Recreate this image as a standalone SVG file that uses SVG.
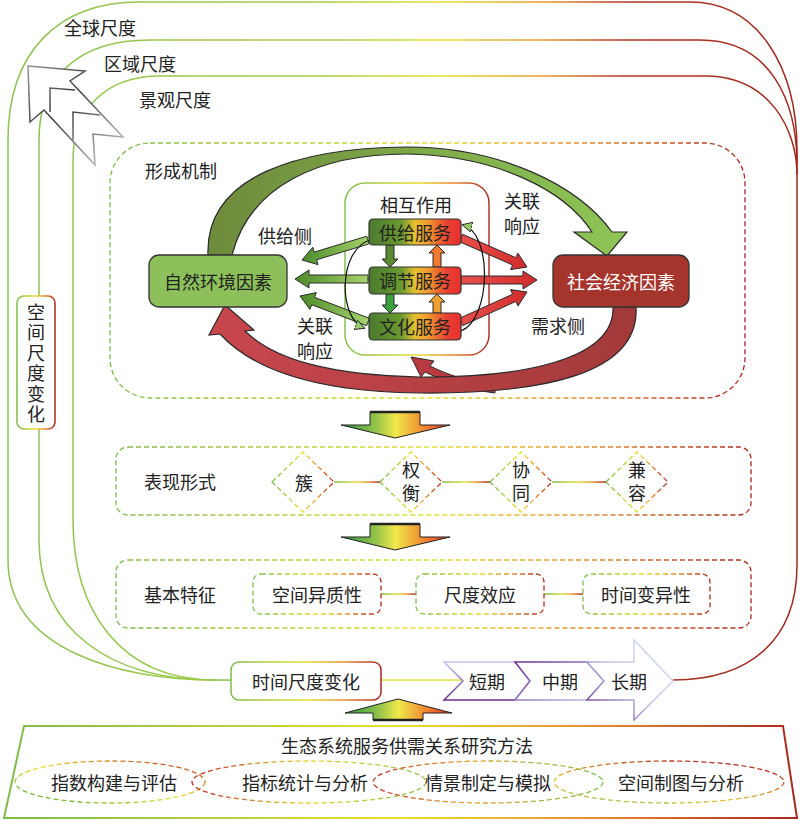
<svg xmlns="http://www.w3.org/2000/svg" width="800" height="820" viewBox="0 0 800 820">
<style>
.t{font-family:"Noto Sans CJK SC","Noto Sans",sans-serif;font-size:18px;fill:#222;text-anchor:middle;dominant-baseline:central}
.v{writing-mode:vertical-rl;text-anchor:start;letter-spacing:2.5px}
.v2{writing-mode:vertical-rl;text-anchor:start;letter-spacing:5px}
.dash{fill:none;stroke-dasharray:5 3;stroke-width:1.3}
.scale{fill:none;stroke:url(#gScale);stroke-width:1.5}
.ol{stroke:#2a2a2a;stroke-width:1}
</style>
<defs>
<linearGradient id="gScale" gradientUnits="userSpaceOnUse" x1="0" y1="0" x2="800" y2="0">
<stop offset="0" stop-color="#8cc152"/><stop offset="0.4" stop-color="#a6cc48"/><stop offset="0.55" stop-color="#e6e02a"/><stop offset="0.68" stop-color="#e89a30"/><stop offset="0.78" stop-color="#b23524"/><stop offset="1" stop-color="#a02820"/>
</linearGradient>
<linearGradient id="gGYR" x1="0" y1="0" x2="1" y2="0">
<stop offset="0" stop-color="#7dbb4a"/><stop offset="0.5" stop-color="#e8e030"/><stop offset="0.75" stop-color="#e88a30"/><stop offset="1" stop-color="#a8281e"/>
</linearGradient>
<linearGradient id="gSvc" x1="0" y1="0" x2="1" y2="0">
<stop offset="0" stop-color="#4a7a2e"/><stop offset="0.35" stop-color="#6a9a30"/><stop offset="0.5" stop-color="#e8c030"/><stop offset="0.62" stop-color="#f0a030"/><stop offset="0.85" stop-color="#e84030"/><stop offset="1" stop-color="#e83030"/>
</linearGradient>
<linearGradient id="gFlow" x1="0" y1="0" x2="1" y2="0">
<stop offset="0" stop-color="#2e9a3e"/><stop offset="0.3" stop-color="#8cc04a"/><stop offset="0.5" stop-color="#f0e84a"/><stop offset="0.75" stop-color="#f08a30"/><stop offset="1" stop-color="#e8382a"/>
</linearGradient>
<linearGradient id="gGreenBig" x1="0" y1="0" x2="1" y2="0">
<stop offset="0" stop-color="#6e8a3c"/><stop offset="1" stop-color="#8ec655"/>
</linearGradient>
<linearGradient id="gRedBig" x1="0" y1="0" x2="1" y2="0">
<stop offset="0" stop-color="#c9474e"/><stop offset="1" stop-color="#a23a3a"/>
</linearGradient>
<linearGradient id="gGreenArr" x1="1" y1="0" x2="0" y2="0">
<stop offset="0" stop-color="#a8d46e"/><stop offset="1" stop-color="#4c8a2a"/>
</linearGradient>
<linearGradient id="gRedArr" x1="0" y1="0" x2="1" y2="0">
<stop offset="0" stop-color="#e8504a"/><stop offset="1" stop-color="#d02c2c"/>
</linearGradient>
<linearGradient id="gGray" gradientUnits="userSpaceOnUse" x1="28" y1="66" x2="123" y2="165">
<stop offset="0" stop-color="#9a9494"/><stop offset="0.4" stop-color="#3a3535"/><stop offset="1" stop-color="#d8d8d8"/>
</linearGradient>
<linearGradient id="gP1" x1="0" y1="0" x2="0" y2="1"><stop offset="0" stop-color="#c4c8ec"/><stop offset="1" stop-color="#6a2f8f"/></linearGradient>
<linearGradient id="gP2" x1="0" y1="0" x2="1" y2="1"><stop offset="0" stop-color="#6a2f8f"/><stop offset="1" stop-color="#c4c8ec"/></linearGradient>
<linearGradient id="gP3" x1="1" y1="0" x2="0" y2="1"><stop offset="0" stop-color="#dcdff2"/><stop offset="0.5" stop-color="#c4c8ec"/><stop offset="1" stop-color="#6a2f8f"/></linearGradient>
<linearGradient id="gE1" x1="0" y1="1" x2="1" y2="0"><stop offset="0" stop-color="#4aa83a"/><stop offset="0.5" stop-color="#e8e030"/><stop offset="1" stop-color="#b82a20"/></linearGradient>
<linearGradient id="gE2" x1="0" y1="0" x2="1" y2="0"><stop offset="0" stop-color="#b82a20"/><stop offset="0.5" stop-color="#e8d830"/><stop offset="1" stop-color="#8cc152"/></linearGradient>
<linearGradient id="gE3" x1="0" y1="0" x2="1" y2="0"><stop offset="0" stop-color="#c03820"/><stop offset="0.4" stop-color="#e8a030"/><stop offset="1" stop-color="#7dbb4a"/></linearGradient>
<linearGradient id="gE4" x1="0" y1="1" x2="0.7" y2="0"><stop offset="0" stop-color="#8cc152"/><stop offset="0.4" stop-color="#e8c030"/><stop offset="1" stop-color="#b02a20"/></linearGradient>
<marker id="mk" markerUnits="userSpaceOnUse" markerWidth="12" markerHeight="12" refX="9" refY="5" orient="auto">
<path d="M0,0 L10,5 L0,10 Z" fill="#9acb6a" stroke="#111" stroke-width="0.8"/>
</marker>
</defs>
<rect width="800" height="820" fill="#fff"/>

<g id="connectors">
<path class="scale" d="M215,680 C120,680 8,650 8,560 L8,140 C8,55 55,2 140,2 L690,2 C760,2 797,70 797,150 L797,565 C797,640 750,680 673,680"/>
<path class="scale" d="M215,680 C110,680 39,630 39,540 L39,140 C39,75 80,40 150,40 L700,40 C770,40 797,100 797,165"/>
<path class="scale" d="M215,680 C120,680 73,610 73,520 L73,160 C73,110 105,76 160,76 L705,76 C770,76 797,130 797,175"/>
<rect x="215" y="679.3" width="17" height="1.5" fill="#8cc152"/>
<rect x="381" y="679.3" width="82" height="1.5" fill="#e4e040"/>
<rect x="334" y="481.3" width="46" height="1.5" fill="url(#gGYR)"/>
<rect x="442" y="481.3" width="48" height="1.5" fill="url(#gGYR)"/>
<rect x="552" y="481.3" width="54" height="1.5" fill="url(#gGYR)"/>
<rect x="381" y="593.3" width="35" height="1.5" fill="url(#gGYR)"/>
<rect x="544" y="593.3" width="39" height="1.5" fill="url(#gGYR)"/>
</g>

<g id="scale-arrows" fill="#fff" stroke="url(#gGray)" stroke-width="1.5">
<polygon points="28,66 85,71 70,81 123,137 93,134 95,165 44,110 30,122"/>
<polyline fill="none" points="75,90 50,88 50,112"/>
<polyline fill="none" points="100,115 73,112 73,140"/>
</g>

<g id="labels-scale">
<text class="t" x="100" y="27">全球尺度</text>
<text class="t" x="140" y="63">区域尺度</text>
<text class="t" x="175" y="99">景观尺度</text>
</g>

<g id="spatial-change">
<rect x="17" y="296" width="38" height="133" rx="7" fill="#fff" stroke="url(#gGYR)" stroke-width="1.5"/>
<text class="t v" x="36" y="303">空间尺度变化</text>
</g>

<g id="mechanism">
<rect class="dash" x="110" y="143" width="635" height="255" rx="40" stroke="url(#gGYR)"/>
<text class="t" x="181" y="170">形成机制</text>
</g>

<g id="interaction">
<rect x="345" y="183" width="144" height="172" rx="20" fill="none" stroke="url(#gGYR)" stroke-width="1.4"/>
<text class="t" x="416" y="204">相互作用</text>
</g>

<g id="big-arrows" class="ol">
<path d="M208,255 C205,175 300,148 407,147 C500,147 578,185 612,232 L627,232 L607,256 L574,232 L592,232 C565,190 495,155 407,154 C320,154 250,185 232,255 Z" fill="url(#gGreenBig)" stroke-width="1.2"/>
<path d="M495,386 C470,382 448,375 430,366 L434,361 L411,357 L421,377 L425,372 C446,382 470,390 495,393 Z" fill="#b83a40"/>
<path d="M613,307 C615,360 520,378 420,377 C330,375 275,360 245,331 L254,330 L225,305 L209,335 L220,334 C255,372 320,392 420,393 C540,394 640,375 636,307 Z" fill="url(#gRedBig)" stroke-width="1.2"/>
</g>

<g id="service-arrows" class="ol" stroke-width="0.9">
<polygon fill="url(#gGreenArr)" points="366.8,236.2 314.2,252.1 312.8,247.3 302,260 318,264.6 316.6,259.8 369.2,243.8"/>
<polygon fill="url(#gGreenArr)" points="368,275 309,275 309,270 295,279 309,288 309,283 368,283"/>
<polygon fill="url(#gGreenArr)" points="369.4,318.3 314.5,297.3 316.3,292.6 300,296 309.9,309.4 311.7,304.7 366.6,325.7"/>
<polygon fill="url(#gRedArr)" points="459.4,241.7 512.6,265 510.6,269.6 527,267 517.8,253.1 515.8,257.7 462.6,234.3"/>
<polygon fill="url(#gRedArr)" points="461,284 523,284 523,289 537,280 523,271 523,276 461,276"/>
<polygon fill="url(#gRedArr)" points="462.7,325.6 515.9,301.4 518,306 527,292 510.5,289.6 512.6,294.2 459.3,318.4"/>
<polygon fill="#5a8a30" points="386,245 386,259 382,259 390,267 398,259 394,259 394,245"/>
<polygon fill="#3aa040" points="386,294 386,305 382,305 390,313 398,305 394,305 394,294"/>
<polygon fill="#f07a30" points="433,267 433,253 429,253 437,245 445,253 441,253 441,267"/>
<polygon fill="#f0a030" points="433,313 433,302 429,302 437,294 445,302 441,302 441,313"/>
</g>

<g id="cycle-arrows" fill="none" stroke="#111" stroke-width="1.2">
<path d="M370,240 C338,250 338,318 364,328" marker-end="url(#mk)"/>
<path d="M461,331 C492,318 492,232 463,225" marker-end="url(#mk)"/>
</g>

<g id="supply">
<rect x="369" y="219" width="92" height="26" rx="4" fill="url(#gSvc)" stroke="#333" stroke-width="1.2"/>
<text class="t" x="415" y="232">供给服务</text>
</g>
<g id="regulating">
<rect x="369" y="267" width="92" height="27" rx="4" fill="url(#gSvc)" stroke="#333" stroke-width="1.2"/>
<text class="t" x="415" y="280">调节服务</text>
</g>
<g id="cultural">
<rect x="369" y="313" width="92" height="27" rx="4" fill="url(#gSvc)" stroke="#333" stroke-width="1.2"/>
<text class="t" x="415" y="326">文化服务</text>
</g>

<g id="natural">
<rect x="149" y="255" width="138" height="52" rx="10" fill="#8dc05a" stroke="#333" stroke-width="1.3"/>
<text class="t" x="218" y="281">自然环境因素</text>
</g>
<g id="socioeconomic">
<rect x="553" y="255" width="136" height="52" rx="10" fill="#a5342c" stroke="#333" stroke-width="1.3"/>
<text class="t" x="621" y="281" style="fill:#fff">社会经济因素</text>
</g>

<g id="mech-labels">
<text class="t" x="285" y="235">供给侧</text>
<text class="t" x="315" y="325">关联</text>
<text class="t" x="315" y="350">响应</text>
<text class="t" x="522" y="200">关联</text>
<text class="t" x="522" y="225">响应</text>
<text class="t" x="558" y="325">需求侧</text>
</g>

<g id="flow-arrows" stroke="#222" stroke-width="1">
<polygon fill="url(#gFlow)" points="370,412 420,412 420,425 450,425 395,438 341,425 370,425"/>
<line x1="370" y1="412" x2="420" y2="412" stroke-width="2.5"/>
<polygon fill="url(#gFlow)" points="370,524 420,524 420,537 450,537 395,550 341,537 370,537"/>
<line x1="370" y1="524" x2="420" y2="524" stroke-width="2.5"/>
<polygon fill="url(#gFlow)" points="373,720 373,713 345,713 398,699 452,713 423,713 423,720"/>
<line x1="373" y1="720" x2="423" y2="720" stroke-width="2.5"/>
</g>

<g id="forms">
<rect class="dash" x="116" y="447" width="635" height="68" rx="12" stroke="url(#gGYR)"/>
<text class="t" x="180" y="481">表现形式</text>
</g>
<g id="cluster">
<polygon class="dash" points="272,482 303,452 334,482 303,512" stroke="url(#gGYR)"/>
<text class="t" x="304" y="482">簇</text>
</g>
<g id="tradeoff">
<polygon class="dash" points="380,482 411,452 442,482 411,512" stroke="url(#gGYR)"/>
<text class="t v2" x="411" y="461">权衡</text>
</g>
<g id="synergy">
<polygon class="dash" points="490,482 521,452 552,482 521,512" stroke="url(#gGYR)"/>
<text class="t v2" x="521" y="461">协同</text>
</g>
<g id="compatible">
<polygon class="dash" points="606,482 637,452 668,482 637,512" stroke="url(#gGYR)"/>
<text class="t v2" x="637" y="461">兼容</text>
</g>

<g id="features">
<rect class="dash" x="116" y="560" width="635" height="68" rx="12" stroke="url(#gGYR)"/>
<text class="t" x="180" y="594">基本特征</text>
</g>
<g id="spatial-heterogeneity">
<rect class="dash" x="253" y="574" width="128" height="40" rx="8" stroke="url(#gGYR)"/>
<text class="t" x="317" y="594">空间异质性</text>
</g>
<g id="scale-effect">
<rect class="dash" x="416" y="574" width="128" height="40" rx="8" stroke="url(#gGYR)"/>
<text class="t" x="480" y="594">尺度效应</text>
</g>
<g id="temporal-variability">
<rect class="dash" x="583" y="574" width="127" height="40" rx="8" stroke="url(#gGYR)"/>
<text class="t" x="646" y="594">时间变异性</text>
</g>

<g id="time-change">
<rect x="231" y="662" width="150" height="38" rx="8" fill="#fff" stroke="url(#gGYR)" stroke-width="1.5"/>
<text class="t" x="306" y="681">时间尺度变化</text>
</g>
<g id="short-term">
<polygon points="444,662 515,662 530,681 515,700 444,700 463,681" fill="#fff" stroke="url(#gP1)" stroke-width="1.5"/>
<text class="t" x="487" y="681">短期</text>
</g>
<g id="mid-term">
<polygon points="515,662 587,662 604,681 587,700 515,700 530,681" fill="#fff" stroke="url(#gP2)" stroke-width="1.5"/>
<text class="t" x="560" y="681">中期</text>
</g>
<g id="long-term">
<polygon points="587,662 634,662 634,640 673,681 634,720 634,700 587,700 604,681" fill="#fff" stroke="url(#gP3)" stroke-width="1.5"/>
<text class="t" x="629" y="681">长期</text>
</g>

<g id="methods">
<polygon points="24,726 783,726 797,818 4,818" fill="none" stroke="url(#gGYR)" stroke-width="2"/>
<text class="t" x="407" y="745">生态系统服务供需关系研究方法</text>
</g>
<g id="m1">
<ellipse class="dash" cx="110" cy="782" rx="95" ry="21" stroke="url(#gE1)"/>
<text class="t" x="114" y="782">指数构建与评估</text>
</g>
<g id="m2">
<ellipse class="dash" cx="309" cy="782" rx="117" ry="21" stroke="url(#gE2)"/>
<text class="t" x="305" y="782">指标统计与分析</text>
</g>
<g id="m3">
<ellipse class="dash" cx="488" cy="782" rx="115" ry="21" stroke="url(#gE3)"/>
<text class="t" x="488" y="782">情景制定与模拟</text>
</g>
<g id="m4">
<ellipse class="dash" cx="669" cy="782" rx="115" ry="21" stroke="url(#gE4)"/>
<text class="t" x="681" y="782">空间制图与分析</text>
</g>
</svg>
